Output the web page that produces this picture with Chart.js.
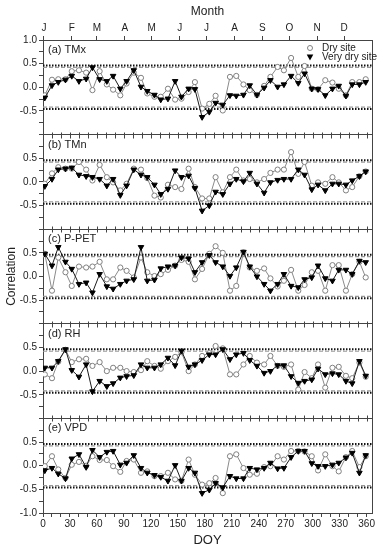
<!DOCTYPE html>
<html>
<head>
<meta charset="utf-8">
<script src="https://cdn.jsdelivr.net/npm/chart.js@4.4.1/dist/chart.umd.min.js"></script>
<style>
html, body { margin: 0; padding: 0; background: #fff; }
#wrap { width: 388px; height: 550px; }
</style>
</head>
<body>
<div id="wrap"><canvas id="corrChart" width="388" height="550"></canvas></div>
<script>
// day of year of each sample (4 per month)
const doy = [2,10,17,25,32,40,48,55,63,71,78,86,93,101,109,116,124,131,139,147,154,162,169,177,
             185,192,200,208,215,223,230,238,246,253,261,268,276,284,291,299,306,314,322,329,337,344,352,359];
const months = ['J','F','M','A','M','J','J','A','S','O','N','D'];
const monthStart = [1,32,60,91,121,152,182,213,244,274,305,335];
const panelNames = ['(a) TMx','(b) TMn','(c) P-PET','(d) RH','(e) VPD'];
const sigLevels = [0.46, 0.42]; // dotted black, dashed grey

const tmxDry = [-0.17,0.16,0.17,0.17,0.34,0.36,0.31,-0.06,0.34,0.06,-0.05,-0.17,0.08,0.31,0.2,-0.13,-0.2,-0.2,-0.03,-0.26,
  -0.24,-0.1,0.11,-0.45,-0.35,-0.18,-0.49,0.22,0.24,0.06,-0.06,-0.16,0.03,0.22,0.43,0.36,0.62,0.22,0.45,-0.03,
  -0.04,0.15,0.10,-0.03,-0.17,0.11,0.11,0.17];
const tmxVeryDry = [-0.22,0.04,0.11,0.16,0.24,0.13,0.18,0.42,0.17,0.13,0.24,-0.03,0.13,0.36,0.01,-0.08,-0.16,-0.26,-0.24,0.13,
  -0.2,-0.03,-0.04,-0.63,-0.52,-0.33,-0.37,-0.17,-0.18,-0.16,0.04,-0.16,-0.01,0.15,0.01,0.06,0.24,0.09,0.29,-0.03,
  -0.04,-0.17,-0.03,0.03,-0.18,0.06,0.06,0.11];

const tmnDry = [-0.04,0.18,0.31,0.28,0.28,0.42,0.26,0.03,0.36,0.1,-0.01,-0.18,-0.04,0.28,0.26,0.08,-0.29,-0.33,-0.06,-0.11,
  -0.15,0.28,-0.11,-0.35,-0.35,0.1,-0.22,0.1,0.26,0.03,0.06,-0.01,0.06,0.19,0.26,0.26,0.63,0.17,0.42,-0.08,
  -0.01,-0.04,0.1,-0.01,-0.18,-0.11,0.12,0.22];
const tmnVeryDry = [-0.09,0.06,0.26,0.28,0.3,0.15,0.12,0.10,0.06,-0.08,0.06,-0.28,-0.08,0.26,0.15,0.1,-0.06,-0.26,-0.15,0.24,
  0.1,0.13,-0.13,-0.61,-0.5,-0.21,-0.26,-0.04,0.06,0.01,0.19,-0.04,-0.23,-0.01,0.04,0.06,0.06,0.26,0.15,-0.16,
  -0.06,-0.18,-0.04,-0.04,-0.06,0.03,0.12,0.22];

const ppetDry = [0.48,-0.3,0.4,0.09,-0.2,0.21,0.19,0.21,0.31,-0.06,-0.06,0.19,0.12,-0.02,0.4,0.09,0.01,0.05,0.14,0.23,
  0.35,0.31,-0.06,0.16,0.48,0.64,0.5,-0.3,-0.2,0.51,0.19,0.12,0.17,-0.04,-0.21,-0.09,0.14,-0.3,-0.18,0.09,
  0.12,-0.3,0.24,0.24,-0.3,0.05,0.31,-0.02];
const ppetVeryDry = [0.48,0.23,0.62,0.31,0.16,-0.16,-0.13,-0.34,0.05,-0.21,-0.26,-0.16,-0.09,-0.06,0.62,-0.09,-0.07,0.17,0.21,0.23,
  0.4,0.38,0.09,0.3,0.45,0.3,0.21,0.01,0.19,0.52,0.21,0.0,-0.16,-0.3,-0.16,0.05,-0.2,-0.23,-0.06,-0.02,
  0.23,-0.04,-0.09,0.14,0.14,0.05,0.33,0.3];

const rhDry = [-0.07,-0.15,0.2,0.45,0.19,0.25,0.26,0.11,0.19,0.0,0.07,0.07,0.0,-0.02,0.02,0.21,0.11,0.05,0.21,0.3,
  0.4,0.0,0.14,0.32,0.38,0.53,0.48,-0.07,-0.07,0.14,0.32,0.18,0.14,0.32,0.11,0.09,0.14,-0.39,-0.02,-0.15,
  0.14,-0.35,0.07,0.09,-0.1,-0.15,0.18,-0.12];
const rhVeryDry = [0.07,0.07,0.21,0.46,0.02,-0.12,0.14,-0.43,-0.21,-0.32,-0.26,-0.14,-0.11,-0.09,0.14,0.07,0.07,0.14,0.28,0.12,
  0.43,0.09,0.14,0.23,0.35,0.35,0.46,0.25,0.35,0.38,0.23,0.11,-0.04,0.0,0.12,0.12,-0.11,-0.25,-0.21,-0.18,
  0.05,-0.07,-0.05,-0.07,-0.21,-0.26,0.21,-0.1];

const vpdDry = [-0.01,0.2,-0.08,-0.26,0.02,0.08,0.0,0.2,0.12,0.12,-0.01,-0.13,0.1,0.13,-0.15,-0.12,-0.22,-0.22,-0.15,-0.29,
  -0.32,0.13,-0.19,-0.4,-0.37,-0.26,-0.58,0.2,0.24,-0.05,-0.19,-0.17,-0.03,-0.01,0.2,0.13,0.31,0.31,0.3,0.2,
  -0.1,0.24,-0.01,-0.12,0.18,0.31,-0.03,0.2];
const vpdVeryDry = [-0.1,-0.05,-0.17,-0.27,0.15,0.24,-0.03,0.33,0.18,0.29,0.31,0.02,0.06,0.22,-0.05,-0.15,-0.2,-0.24,-0.32,0.01,
  -0.32,-0.05,-0.15,-0.58,-0.51,-0.37,-0.46,-0.22,-0.27,-0.27,-0.05,-0.08,-0.05,0.06,-0.06,-0.05,0.18,0.31,0.31,0.05,
  -0.01,-0.01,0.02,0.06,0.17,0.27,-0.15,0.22];

const panelIds = ['yA','yB','yC','yD','yE'];
const dryData = [tmxDry, tmnDry, ppetDry, rhDry, vpdDry];
const veryDryData = [tmxVeryDry, tmnVeryDry, ppetVeryDry, rhVeryDry, vpdVeryDry];

const FONT = '"Liberation Sans", Arial, sans-serif';
const AXIS = '#444';
const TXT = '#222';

let datasets = [];
panelIds.forEach((id, k) => {
  datasets.push({
    label: 'Very dry site', yAxisID: id, xAxisID: 'x', order: 0,
    data: doy.map((d, i) => ({x: d, y: veryDryData[k][i]})),
    borderColor: '#1a1a1a', borderWidth: 1,
    pointStyle: 'triangle', rotation: 180, pointRadius: 3.2,
    pointBackgroundColor: '#000', pointBorderColor: '#000', pointBorderWidth: 1
  });
  datasets.push({
    label: 'Dry site', yAxisID: id, xAxisID: 'x', order: 1,
    data: doy.map((d, i) => ({x: d, y: dryData[k][i]})),
    borderColor: '#8a8a8a', borderWidth: 1,
    pointStyle: 'circle', pointRadius: 2.6,
    pointBackgroundColor: '#fff', pointBorderColor: '#808080', pointBorderWidth: 1
  });
  [1, -1].forEach(sign => {
    datasets.push({
      yAxisID: id, xAxisID: 'x', order: 5,
      data: [{x: 0, y: sign * sigLevels[0]}, {x: 366, y: sign * sigLevels[0]}],
      borderColor: '#111', borderWidth: 2, borderDash: [1.5, 1.5], pointRadius: 0
    });
    datasets.push({
      yAxisID: id, xAxisID: 'x', order: 6,
      data: [{x: 0, y: sign * sigLevels[1]}, {x: 366, y: sign * sigLevels[1]}],
      borderColor: '#9a9a9a', borderWidth: 1.2, borderDash: [4, 2], pointRadius: 0
    });
  });
});

const scales = {
  x: {
    type: 'linear', position: 'bottom', min: 0, max: 366,
    afterBuildTicks: s => {
      s.ticks = [];
      for (let d = 0; d <= 360; d += 10) s.ticks.push({value: d});
    },
    afterFit: s => { s.height = 37; },
    ticks: { autoSkip: false, maxRotation: 0, padding: 1, color: TXT,
      font: {family: FONT, size: 10},
      callback: v => (Math.round(v) % 30 === 0 ? String(Math.round(v)) : '') },
    grid: { drawOnChartArea: false, tickLength: 4, tickColor: AXIS },
    border: { color: AXIS },
    title: { display: true, text: 'DOY', color: TXT, font: {family: FONT, size: 13}, padding: {top: 0, bottom: 2} }
  },
  xTop: {
    type: 'linear', position: 'top', min: 0, max: 366,
    afterBuildTicks: s => { s.ticks = monthStart.map(v => ({value: v})); },
    afterFit: s => { s.height = 40; },
    ticks: { autoSkip: false, maxRotation: 0, padding: 2, color: TXT,
      font: {family: FONT, size: 10},
      callback: (v, i) => months[i] },
    grid: { drawOnChartArea: false, tickLength: 4, tickColor: AXIS },
    border: { color: AXIS },
    title: { display: true, text: 'Month', color: TXT, font: {family: FONT, size: 12}, padding: {top: 4, bottom: 0} }
  }
};

panelIds.forEach((id, k) => {
  scales[id] = {
    type: 'linear', position: 'left', stack: 'panels', stackWeight: 1, weight: 5 - k,
    min: -1, max: 1,
    afterFit: s => { s.width = 43; },
    ticks: {
      stepSize: 0.25, autoSkip: false, padding: 2, color: TXT,
      font: {family: FONT, size: 10},
      callback: v => {
        if (Math.abs(v) < 1e-9) return '0.0';
        if (Math.abs(Math.abs(v) - 0.5) < 1e-9) return v.toFixed(1);
        if (k === 0 && v === 1) return '1.0';
        if (k === 4 && v === -1) return '-1.0';
        return '';
      }
    },
    grid: {
      tickLength: 4, tickColor: AXIS,
      color: c => (c.tick && c.tick.value === -1 && k < 4 ? AXIS : 'rgba(0,0,0,0)')
    },
    border: { color: AXIS },
    title: k === 2
      ? { display: true, text: 'Correlation', color: TXT, font: {family: FONT, size: 12}, padding: {top: 4, bottom: 0} }
      : { display: false }
  };
});

const decorPlugin = {
  id: 'decor',
  afterDraw(chart) {
    const ctx = chart.ctx;
    const area = chart.chartArea;
    const xs = chart.scales.x;
    ctx.save();
    ctx.strokeStyle = AXIS;
    ctx.lineWidth = 1;
    // right frame
    ctx.beginPath();
    ctx.moveTo(area.right + 0.5, area.top);
    ctx.lineTo(area.right + 0.5, area.bottom);
    ctx.stroke();
    // small ticks on the panel boundaries
    ctx.beginPath();
    panelIds.forEach((id, k) => {
      if (k === 0) return;
      const yp = Math.round(chart.scales[id].top) + 0.5;
      for (let d = 10; d <= 360; d += 10) {
        const px = Math.round(xs.getPixelForValue(d)) + 0.5;
        ctx.moveTo(px, yp - 3);
        ctx.lineTo(px, yp + 3);
      }
    });
    ctx.stroke();
    // panel labels
    ctx.fillStyle = TXT;
    ctx.font = '11px ' + FONT;
    ctx.textBaseline = 'middle';
    ctx.textAlign = 'left';
    panelIds.forEach((id, k) => {
      ctx.fillText(panelNames[k], area.left + 5, chart.scales[id].top + 10);
    });
    // legend
    const mx = area.right - 62, tx = area.right - 50;
    const y1 = area.top + 8, y2 = area.top + 17;
    ctx.font = '10px ' + FONT;
    ctx.fillText('Dry site', tx, y1);
    ctx.fillText('Very dry site', tx, y2);
    ctx.beginPath();
    ctx.arc(mx, y1, 2.5, 0, Math.PI * 2);
    ctx.fillStyle = '#fff';
    ctx.fill();
    ctx.strokeStyle = '#808080';
    ctx.stroke();
    ctx.beginPath();
    ctx.moveTo(mx - 3.3, y2 - 2.5);
    ctx.lineTo(mx + 3.3, y2 - 2.5);
    ctx.lineTo(mx, y2 + 3.5);
    ctx.closePath();
    ctx.fillStyle = '#000';
    ctx.fill();
    ctx.restore();
  }
};

new Chart(document.getElementById('corrChart').getContext('2d'), {
  type: 'line',
  data: { datasets: datasets },
  options: {
    responsive: false,
    animation: false,
    devicePixelRatio: 1,
    events: [],
    layout: { padding: {left: 0, right: 16, top: 0, bottom: 0} },
    plugins: { legend: {display: false}, tooltip: {enabled: false} },
    scales: scales
  },
  plugins: [decorPlugin]
});
</script>
</body>
</html>
